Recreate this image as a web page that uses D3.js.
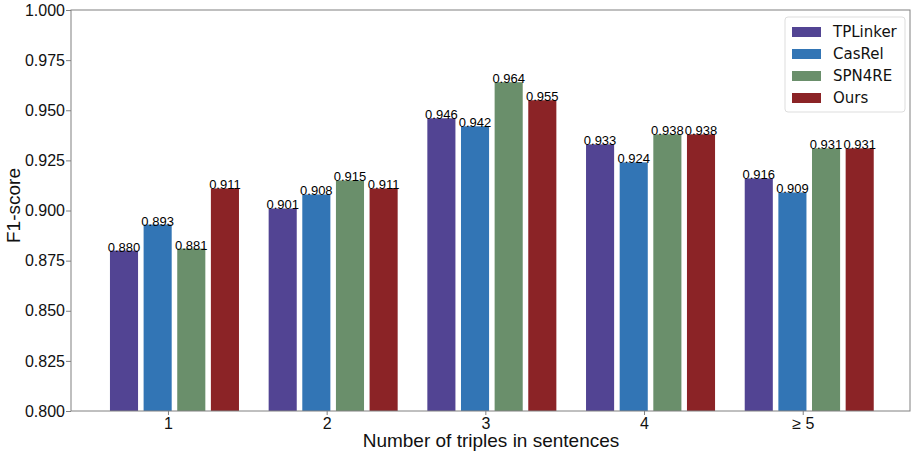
<!DOCTYPE html>
<html>
<head>
<meta charset="utf-8">
<script src="https://cdn.jsdelivr.net/npm/d3@7"></script>
<style>
  body { margin: 0; background: #fff; }
  svg { display: block; }
</style>
</head>
<body>
<div id="chart"></div>
<script>
// data
const categories = ['1', '2', '3', '4', '\u2265 5'];
const seriesNames = ['TPLinker', 'CasRel', 'SPN4RE', 'Ours'];
const TPLinker = [0.880, 0.901, 0.946, 0.933, 0.916];
const CasRel = [0.893, 0.908, 0.942, 0.924, 0.909];
const SPN4RE = [0.881, 0.915, 0.964, 0.938, 0.931];
const Ours = [0.911, 0.911, 0.955, 0.938, 0.931];
const yTicks = [0.800, 0.825, 0.850, 0.875, 0.900, 0.925, 0.950, 0.975, 1.000];

const series = [TPLinker, CasRel, SPN4RE, Ours];
const colors = ['#524493', '#3275b5', '#6a8f6b', '#8b2326'];

const width = 913, height = 454;
const margin = { top: 10, right: 3, bottom: 43, left: 71 };
const innerW = width - margin.left - margin.right;
const innerH = height - margin.top - margin.bottom;

const svg = d3.select('#chart').append('svg')
  .attr('width', width)
  .attr('height', height);

const g = svg.append('g')
  .attr('transform', `translate(${margin.left},${margin.top})`);

// x is continuous (group index), like the matplotlib original
const x = d3.scaleLinear().domain([-0.611, 4.676]).range([0, innerW]);
const y = d3.scaleLinear().domain([0.8, 1.0]).range([innerH, 0]);

const step = 0.212;
const barW = 0.177;
const firstOffset = -0.277;

const fontTick = 'Liberation Sans, Arial, sans-serif';

// bars + labels
series.forEach((vals, si) => {
  const sg = g.append('g');
  vals.forEach((v, ci) => {
    const cx = ci + firstOffset + si * step;
    const x0 = x(cx - barW / 2), x1 = x(cx + barW / 2);
    sg.append('rect')
      .attr('x', x0)
      .attr('y', y(v))
      .attr('width', x1 - x0)
      .attr('height', y(0.8) - y(v))
      .attr('fill', colors[si]);
    sg.append('text')
      .attr('x', x(cx))
      .attr('y', y(v) + 1)
      .attr('text-anchor', 'middle')
      .style('font-family', fontTick)
      .style('font-size', '13px')
      .text(v.toFixed(3));
  });
});

// axes
const yAxis = d3.axisLeft(y).tickValues(yTicks).tickFormat(d3.format('.3f')).tickSize(5);
const gy = g.append('g').call(yAxis);
gy.select('.domain').remove();
gy.selectAll('.tick line').attr('stroke', '#808080');
gy.selectAll('.tick text')
  .style('font-family', fontTick)
  .style('font-size', '16px')
  .attr('fill', '#111')
  .attr('x', -6);

const xAxis = d3.axisBottom(x).tickValues(d3.range(categories.length))
  .tickFormat((d) => categories[d]).tickSize(4);
const gx = g.append('g').attr('transform', `translate(0,${innerH})`).call(xAxis);
gx.select('.domain').remove();
gx.selectAll('.tick line').attr('stroke', '#808080');
gx.selectAll('.tick text')
  .style('font-family', fontTick)
  .style('font-size', '16px')
  .attr('fill', '#111')
  .attr('dy', '0.66em');

// frame
g.append('rect')
  .attr('x', 0).attr('y', 0)
  .attr('width', innerW).attr('height', innerH)
  .attr('fill', 'none')
  .attr('stroke', '#808080')
  .attr('stroke-width', 1);

// axis titles
svg.append('text')
  .attr('x', 491)
  .attr('y', 447)
  .attr('text-anchor', 'middle')
  .style('font-family', fontTick)
  .style('font-size', '19px')
  .attr('fill', '#111')
  .text('Number of triples in sentences');

svg.append('text')
  .attr('transform', `translate(20,${margin.top + innerH / 2 - 5}) rotate(-90)`)
  .attr('text-anchor', 'middle')
  .style('font-family', fontTick)
  .style('font-size', '19px')
  .attr('fill', '#111')
  .text('F1-score');

// legend
const legend = svg.append('g').attr('transform', 'translate(785,17)');
legend.append('rect')
  .attr('width', 120).attr('height', 95)
  .attr('rx', 3)
  .attr('fill', '#fff')
  .attr('stroke', '#dddddd');
seriesNames.forEach((name, i) => {
  const row = legend.append('g').attr('transform', `translate(0,${15 + i * 22})`);
  row.append('rect')
    .attr('x', 7).attr('y', -5)
    .attr('width', 29).attr('height', 10)
    .attr('fill', colors[i]);
  row.append('text')
    .attr('x', 48).attr('y', 0)
    .attr('dy', '0.35em')
    .style('font-family', 'DejaVu Sans, sans-serif')
    .style('font-size', '15px')
    .attr('fill', '#111')
    .text(name);
});
</script>
</body>
</html>
